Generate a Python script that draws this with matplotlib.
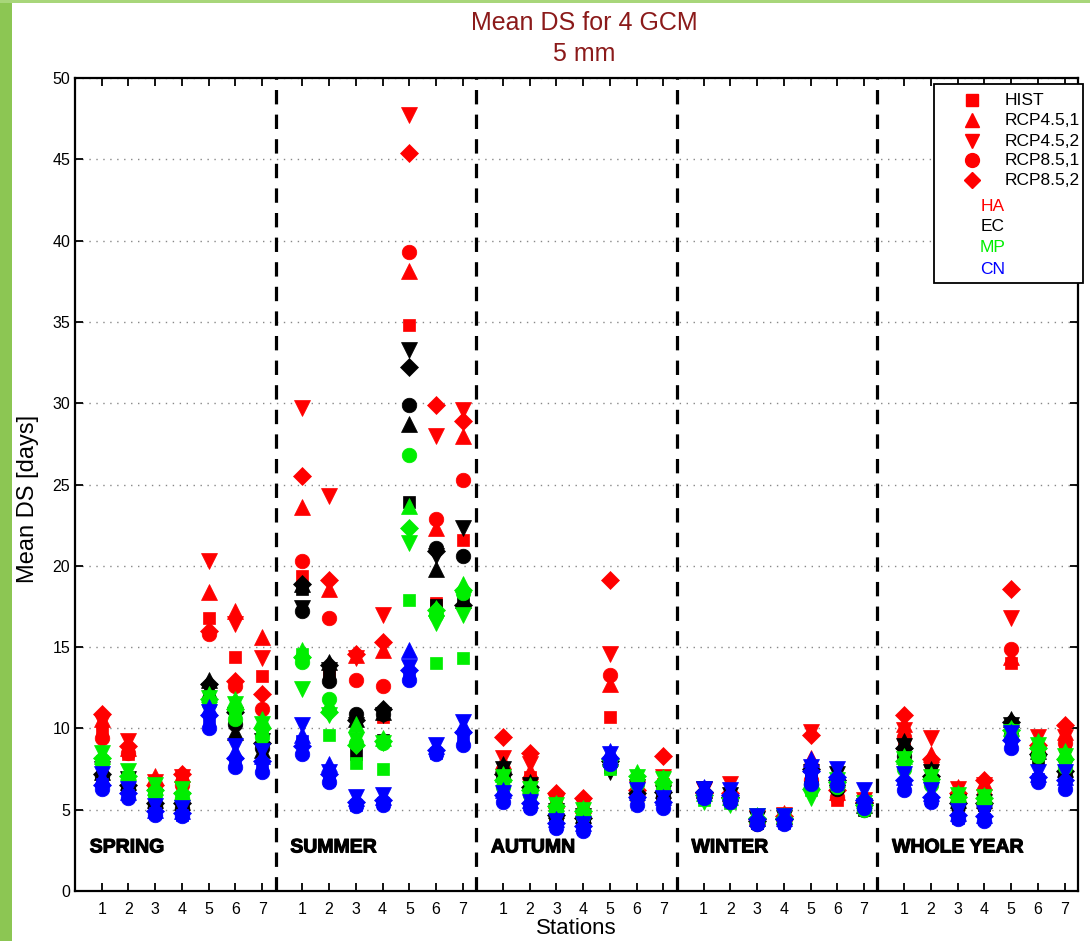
import matplotlib
matplotlib.use("Agg")
import matplotlib.pyplot as plt
from matplotlib.patches import Rectangle
import matplotlib.patheffects as pe
import numpy as np

plt.rcParams['font.family'] = ['Liberation Sans', 'DejaVu Sans']

# ---------------- data ----------------
seasons = ["SPRING", "SUMMER", "AUTUMN", "WINTER", "WHOLE YEAR"]
stations = ["1", "2", "3", "4", "5", "6", "7"]
scenarios = ["HIST", "RCP4.5,1", "RCP4.5,2", "RCP8.5,1", "RCP8.5,2"]
gcms = ["HA", "EC", "MP", "CN"]
gcm_colors = ["#ff0000", "#000000", "#00ee00", "#0000ff"]
scen_markers = ["s", "^", "v", "o", "D"]

# values: 7 stations per season, seasons in order SPRING, SUMMER, AUTUMN, WINTER, WHOLE YEAR
HA_HIST = [9.8, 8.4, 6.3, 6.7, 16.8, 14.4, 13.2,
           19.4, 13.5, 10.5, 10.7, 34.8, 17.7, 21.6,
           7.5, 7.0, 5.2, 4.9, 10.7, 6.0, 6.6,
           5.9, 5.8, 4.3, 4.5, 7.2, 5.6, 5.3,
           9.3, 7.9, 5.8, 6.0, 14.0, 8.7, 8.9]
HA_R451 = [10.6, 8.8, 7.1, 7.2, 18.4, 17.2, 15.6,
           23.6, 18.6, 14.5, 14.8, 38.1, 22.3, 28.0,
           8.0, 7.4, 5.6, 5.3, 12.7, 6.4, 7.0,
           6.3, 6.2, 4.6, 4.8, 8.2, 6.1, 5.7,
           10.3, 8.4, 6.4, 6.7, 14.4, 9.3, 9.8]
HA_R452 = [10.4, 9.2, 6.7, 7.0, 20.3, 16.4, 14.3,
           29.7, 24.3, 14.3, 17.0, 47.7, 28.0, 29.6,
           8.2, 7.8, 5.5, 5.2, 14.6, 6.3, 7.0,
           6.2, 6.6, 4.5, 4.7, 9.8, 6.0, 5.6,
           9.9, 9.4, 6.3, 6.5, 16.8, 9.5, 9.5]
HA_R851 = [9.4, 8.5, 6.2, 6.5, 15.8, 12.6, 11.2,
           20.3, 16.8, 13.0, 12.6, 39.3, 22.9, 25.3,
           7.4, 6.9, 5.2, 4.8, 13.3, 5.8, 6.5,
           5.7, 5.7, 4.2, 4.4, 6.8, 5.8, 5.2,
           9.5, 7.8, 5.7, 5.9, 14.9, 8.5, 9.1]
HA_R852 = [10.9, 8.9, 6.5, 7.2, 16.0, 12.9, 12.1,
           25.5, 19.1, 14.6, 15.3, 45.4, 29.9, 28.9,
           9.5, 8.5, 6.0, 5.7, 19.1, 6.2, 8.3,
           6.0, 6.0, 4.4, 4.6, 9.6, 6.2, 5.5,
           10.8, 8.1, 6.0, 6.8, 18.6, 9.0, 10.2]

EC_HIST = [7.0, 6.4, 5.3, 5.2, 12.0, 10.5, 9.0,
           18.6, 13.2, 8.4, 9.3, 23.9, 17.6, 17.7,
           7.0, 6.3, 4.6, 4.3, 7.6, 5.8, 5.9,
           5.9, 5.6, 4.2, 4.3, 6.9, 6.4, 5.0,
           8.5, 7.0, 5.3, 5.3, 9.8, 8.1, 7.2]
EC_R451 = [7.3, 6.7, 5.6, 5.5, 13.0, 9.8, 8.7,
           18.9, 14.1, 10.6, 11.0, 28.7, 19.8, 17.9,
           7.8, 6.7, 5.0, 4.7, 8.4, 6.2, 6.2,
           6.2, 6.0, 4.5, 4.6, 7.8, 7.0, 5.3,
           9.2, 7.5, 5.6, 5.6, 10.6, 8.6, 7.5]
EC_R452 = [7.5, 6.9, 5.8, 5.6, 12.3, 10.8, 9.2,
           17.4, 13.6, 10.2, 10.8, 33.3, 20.6, 22.3,
           7.5, 6.5, 4.9, 4.6, 7.3, 6.4, 6.0,
           6.3, 5.9, 4.4, 4.5, 7.3, 7.2, 5.2,
           8.9, 7.3, 5.5, 5.5, 10.2, 7.9, 7.6]
EC_R851 = [7.1, 6.3, 5.2, 5.1, 11.8, 10.3, 8.8,
           17.2, 12.9, 10.9, 10.9, 29.9, 21.1, 20.6,
           6.9, 6.2, 4.5, 4.2, 7.8, 5.7, 5.8,
           5.8, 5.5, 4.1, 4.2, 6.6, 6.3, 5.0,
           8.3, 6.8, 5.2, 5.2, 9.6, 8.3, 7.1]
EC_R852 = [7.2, 6.5, 5.4, 5.4, 12.7, 11.0, 9.1,
           18.9, 13.9, 10.5, 11.2, 32.2, 20.9, 17.6,
           7.2, 6.4, 4.7, 4.5, 8.0, 6.0, 6.1,
           6.1, 5.8, 4.3, 4.4, 7.5, 6.8, 5.4,
           8.8, 7.1, 5.4, 5.4, 10.4, 8.4, 7.4]

MP_HIST = [8.0, 7.0, 6.0, 5.8, 11.6, 11.0, 9.7,
           14.6, 9.6, 7.9, 7.5, 17.9, 14.0, 14.3,
           6.6, 6.0, 5.0, 4.7, 7.5, 6.8, 6.5,
           5.6, 5.4, 4.4, 4.4, 6.2, 6.5, 5.1,
           7.7, 6.7, 5.6, 5.5, 9.6, 8.5, 7.8]
MP_R451 = [8.3, 7.3, 6.4, 6.1, 12.1, 11.8, 10.6,
           14.8, 11.5, 10.3, 9.4, 23.7, 17.4, 18.9,
           7.2, 6.5, 5.4, 5.1, 8.2, 7.3, 7.0,
           6.0, 5.8, 4.7, 4.7, 6.8, 6.9, 5.6,
           8.3, 7.2, 6.0, 5.9, 10.0, 9.2, 8.6]
MP_R452 = [8.5, 7.4, 6.5, 6.3, 11.9, 11.5, 10.3,
           12.4, 10.8, 9.3, 9.1, 21.4, 16.5, 17.0,
           7.0, 6.3, 5.3, 5.0, 7.6, 7.0, 6.9,
           5.5, 5.3, 4.6, 4.6, 5.7, 6.8, 5.4,
           8.1, 7.0, 5.9, 5.8, 9.8, 9.0, 8.3]
MP_R851 = [7.9, 6.9, 5.9, 5.7, 11.5, 10.6, 9.5,
           14.1, 11.8, 9.1, 9.1, 26.8, 17.0, 18.3,
           6.4, 5.9, 4.9, 4.6, 7.9, 6.6, 6.3,
           5.8, 5.6, 4.3, 4.3, 6.5, 6.4, 5.0,
           7.5, 6.5, 5.5, 5.4, 9.4, 8.3, 7.6]
MP_R852 = [8.2, 7.1, 6.2, 6.0, 11.8, 11.2, 10.0,
           14.4, 11.0, 9.0, 9.2, 22.3, 17.3, 18.5,
           6.8, 6.2, 5.2, 4.9, 8.1, 7.1, 6.7,
           5.9, 5.7, 4.5, 4.5, 6.3, 6.7, 5.3,
           8.0, 6.9, 5.8, 5.7, 9.9, 8.8, 8.1]

CN_HIST = [6.6, 5.9, 4.8, 4.7, 10.5, 8.0, 7.8,
           9.2, 6.8, 5.3, 5.4, 13.3, 8.5, 9.5,
           5.8, 5.2, 4.0, 3.8, 8.0, 5.6, 5.4,
           5.8, 5.6, 4.2, 4.2, 6.8, 6.6, 5.3,
           6.6, 5.6, 4.5, 4.4, 9.0, 6.9, 6.5]
CN_R451 = [7.0, 6.1, 5.0, 4.9, 11.3, 8.6, 8.3,
           9.6, 7.8, 5.7, 5.8, 14.8, 8.9, 10.2,
           6.2, 5.6, 4.4, 4.2, 8.6, 6.1, 5.8,
           6.4, 6.1, 4.5, 4.5, 8.1, 7.3, 5.9,
           7.0, 6.0, 4.8, 4.7, 9.8, 7.2, 7.0]
CN_R452 = [7.2, 6.3, 5.2, 5.1, 11.0, 8.9, 8.6,
           10.2, 7.3, 5.8, 5.9, 13.8, 9.0, 10.4,
           6.0, 5.5, 4.3, 4.1, 8.4, 6.2, 5.7,
           6.3, 6.2, 4.6, 4.6, 7.6, 7.5, 6.2,
           7.2, 6.2, 4.9, 4.8, 9.7, 7.3, 7.3]
CN_R851 = [6.3, 5.7, 4.7, 4.6, 10.0, 7.6, 7.3,
           8.4, 6.7, 5.2, 5.3, 13.0, 8.4, 9.0,
           5.5, 5.1, 3.9, 3.7, 7.8, 5.3, 5.1,
           5.7, 5.5, 4.1, 4.1, 6.6, 6.5, 5.1,
           6.2, 5.5, 4.4, 4.3, 8.8, 6.7, 6.3]
CN_R852 = [6.5, 6.0, 4.9, 4.8, 10.8, 8.2, 8.0,
           8.9, 7.2, 5.5, 5.6, 13.6, 8.7, 9.8,
           5.9, 5.4, 4.2, 4.0, 8.2, 5.8, 5.5,
           6.1, 5.9, 4.4, 4.4, 7.4, 7.0, 5.6,
           6.8, 5.8, 4.7, 4.6, 9.3, 7.0, 6.8]

series = {
    "HA": [HA_HIST, HA_R451, HA_R452, HA_R851, HA_R852],
    "EC": [EC_HIST, EC_R451, EC_R452, EC_R851, EC_R852],
    "MP": [MP_HIST, MP_R451, MP_R452, MP_R851, MP_R852],
    "CN": [CN_HIST, CN_R451, CN_R452, CN_R851, CN_R852],
}

# ---------------- layout ----------------
W, H = 1090, 941
fig = plt.figure(figsize=(W / 100, H / 100), dpi=100)
fig.patch.set_facecolor("white")
fig.patches.append(Rectangle((0, 0), 12 / W, 1, transform=fig.transFigure,
                             facecolor="#8cc653", edgecolor="none", zorder=-5))
fig.patches.append(Rectangle((0, 1 - 3 / H), 1, 3 / H, transform=fig.transFigure,
                             facecolor="#a8d67a", edgecolor="none", zorder=-5))

ax = fig.add_axes([75 / W, (941 - 891) / H, (1078 - 75) / W, (891 - 78) / H])

group_w = 7.5
xpos = np.array([s * group_w + i for s in range(len(seasons)) for i in range(1, 8)], dtype=float)

marker_sizes = {"s": 8.5, "^": 11, "v": 11, "o": 10.5, "D": 9}
for g, col in zip(gcms, gcm_colors):
    for vals, mk in zip(series[g], scen_markers):
        ax.plot(xpos, vals, linestyle="none", marker=mk, color=col,
                markersize=marker_sizes[mk], markeredgewidth=0.5, zorder=3)

# separators
for s in range(1, len(seasons)):
    ax.axvline(s * group_w, color="black", lw=2.3, linestyle=(0, (4.5, 3.2)), zorder=2)

# season labels
for s, name in enumerate(seasons):
    ax.text(s * group_w + 0.55, 2.65, name, fontsize=14, fontweight="bold",
            va="center", ha="left", zorder=4,
            path_effects=[pe.withStroke(linewidth=0.8, foreground="black")])

ax.set_xlim(0, len(seasons) * group_w)
ax.set_ylim(0, 50)
ax.set_yticks(np.arange(0, 51, 5))
ax.set_xticks(xpos)
ax.set_xticklabels(stations * len(seasons))
ax.tick_params(axis="both", direction="in", length=6, width=1.3, labelsize=11.5,
               top=True, right=True)
ax.tick_params(axis="x", pad=8)
ax.yaxis.grid(True, linestyle=(0, (1, 4)), color="#888888", lw=1)
ax.set_axisbelow(True)
for sp in ax.spines.values():
    sp.set_linewidth(1.6)

ax.set_xlabel("Stations", fontsize=16, labelpad=1)
ax.set_ylabel("Mean DS [days]", fontsize=17)
ax.yaxis.set_label_coords((39 - 75) / 1003.0, (891 - 499) / 813.0)

fig.text(584 / W, 1 - 23 / H, "Mean DS for 4 GCM", fontsize=18, color="#8b1a1a",
         ha="center", va="center")
fig.text(584 / W, 1 - 54 / H, "5 mm", fontsize=18, color="#8b1a1a",
         ha="center", va="center")

# legend box (axes fraction coordinates)
def fy(py):
    return (891 - py) / 813.0

def fx(px):
    return (px - 75) / 1003.0

ax.add_patch(Rectangle((fx(934), fy(283)), fx(1083) - fx(934), fy(84) - fy(283),
                       transform=ax.transAxes, facecolor="white", edgecolor="black",
                       lw=1.3, clip_on=False, zorder=6))
leg_y = [100, 120, 141, 160, 180]
for name, mk, py in zip(scenarios, scen_markers, leg_y):
    ax.plot([fx(972)], [fy(py)], transform=ax.transAxes, linestyle="none",
            marker=mk, color="red", markersize=marker_sizes[mk] * 0.95,
            clip_on=False, zorder=7)
    ax.text(fx(1005), fy(py), name, transform=ax.transAxes, fontsize=12.5,
            va="center", ha="left", zorder=7)
for g, col, py in zip(gcms, gcm_colors, [206, 226, 247, 269]):
    ax.text(fx(993), fy(py), g, transform=ax.transAxes, fontsize=12.5, color=col,
            va="center", ha="center", zorder=7)

fig.savefig("out.png", dpi=100)
